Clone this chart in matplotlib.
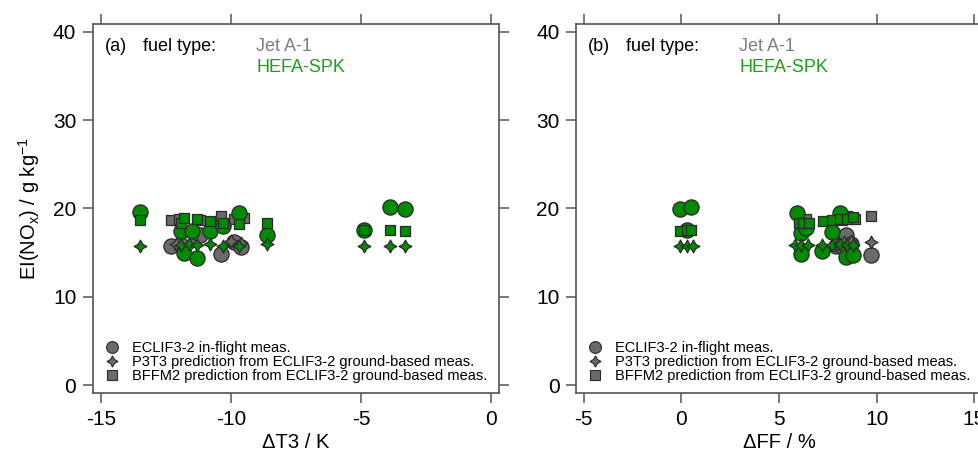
import matplotlib
matplotlib.use("Agg")
import matplotlib.pyplot as plt
from matplotlib.lines import Line2D

plt.rcParams['font.family'] = ['Liberation Sans', 'DejaVu Sans']
plt.rcParams['mathtext.fontset'] = 'custom'
plt.rcParams['mathtext.rm'] = 'Liberation Sans'
plt.rcParams['mathtext.it'] = 'Liberation Sans:italic'
plt.rcParams['axes.unicode_minus'] = False

# ---- panel (a): dT3 / K ----
a_jet_meas_x = [-12.3, -11.9, -11.2, -10.4, -9.9, -9.6]
a_jet_meas_y = [15.7, 15.9, 17.0, 14.8, 16.2, 15.6]
a_jet_p3t3_x = [-12.1, -11.5, -10.0, -9.6]
a_jet_p3t3_y = [16.0, 16.2, 16.3, 16.1]
a_jet_bffm_x = [-12.3, -12.0, -11.2, -10.4, -9.9, -9.5]
a_jet_bffm_y = [18.7, 18.8, 18.7, 19.1, 18.8, 18.9]

a_hefa_meas_x = [-13.5, -11.9, -11.8, -11.5, -11.3, -10.8, -10.3, -9.7, -8.6, -4.9, -3.9, -3.3]
a_hefa_meas_y = [19.6, 17.4, 14.9, 17.4, 14.4, 17.5, 18.0, 19.5, 17.0, 17.6, 20.2, 19.9]
a_hefa_p3t3_x = [-13.5, -11.9, -11.6, -11.3, -10.8, -10.3, -9.7, -8.6, -4.9, -3.9, -3.3]
a_hefa_p3t3_y = [15.8, 15.9, 16.0, 15.9, 16.0, 15.8, 15.8, 16.0, 15.8, 15.8, 15.8]
a_hefa_bffm_x = [-13.5, -11.9, -11.8, -11.3, -10.8, -10.3, -9.7, -8.6, -4.9, -3.9, -3.3]
a_hefa_bffm_y = [18.7, 18.3, 18.9, 18.8, 18.6, 18.4, 18.2, 18.4, 17.6, 17.6, 17.4]

# ---- panel (b): dFF / % ----
b_jet_meas_x = [7.9, 8.0, 8.2, 8.4, 8.7, 9.7]
b_jet_meas_y = [15.7, 16.0, 15.8, 17.0, 16.0, 14.7]
b_jet_p3t3_x = [8.0, 8.3, 8.7, 9.7]
b_jet_p3t3_y = [16.0, 16.2, 16.3, 16.2]
b_jet_bffm_x = [6.0, 6.4, 8.2, 8.5, 8.9, 9.7]
b_jet_bffm_y = [18.7, 18.8, 18.7, 19.1, 18.8, 19.1]

b_hefa_meas_x = [-0.1, 0.5, 0.3, 5.9, 6.1, 6.1, 6.4, 7.2, 7.7, 8.1, 8.4, 8.8]
b_hefa_meas_y = [19.9, 20.2, 17.6, 19.5, 17.2, 14.85, 17.8, 15.2, 17.3, 19.5, 14.45, 14.7]
b_hefa_p3t3_x = [-0.1, 0.3, 0.6, 5.8, 6.1, 6.5, 7.2, 7.7, 8.1, 8.5, 8.8]
b_hefa_p3t3_y = [15.8, 15.8, 15.8, 15.9, 15.9, 15.9, 15.9, 15.9, 16.0, 15.9, 15.9]
b_hefa_bffm_x = [-0.1, 0.3, 0.5, 6.0, 6.2, 6.55, 7.25, 7.7, 8.1, 8.45, 8.8]
b_hefa_bffm_y = [17.45, 17.6, 17.6, 18.3, 18.3, 18.3, 18.6, 18.7, 18.8, 18.8, 19.0]

legend_labels = ['ECLIF3-2 in-flight meas.',
                 'P3T3 prediction from ECLIF3-2 ground-based meas.',
                 'BFFM2 prediction from ECLIF3-2 ground-based meas.']

GRAY = '#6a6a6a'
GREEN = '#008a00'
EDGE = '#2a2a2a'
AXC = '#555555'
STAR = (4, 1, 0)
SIZES = [120, 85, 62]

fig = plt.figure(figsize=(9.79, 4.53), dpi=100)
ax_a = fig.add_axes([0.095, 0.1325, 0.4147, 0.8146])
ax_b = fig.add_axes([0.5884, 0.1325, 0.4149, 0.8146])


def draw(ax, jet, hefa):
    for (x, y), m, s in zip(jet, ['o', STAR, 's'], SIZES):
        ax.scatter(x, y, marker=m, s=s, c=GRAY, edgecolors=EDGE, linewidths=0.9, zorder=3)
    for (x, y), m, s in zip(hefa, ['o', STAR, 's'], SIZES):
        ax.scatter(x, y, marker=m, s=s, c=GREEN, edgecolors=EDGE, linewidths=0.9, zorder=4)


draw(ax_a,
     [(a_jet_meas_x, a_jet_meas_y), (a_jet_p3t3_x, a_jet_p3t3_y), (a_jet_bffm_x, a_jet_bffm_y)],
     [(a_hefa_meas_x, a_hefa_meas_y), (a_hefa_p3t3_x, a_hefa_p3t3_y), (a_hefa_bffm_x, a_hefa_bffm_y)])
draw(ax_b,
     [(b_jet_meas_x, b_jet_meas_y), (b_jet_p3t3_x, b_jet_p3t3_y), (b_jet_bffm_x, b_jet_bffm_y)],
     [(b_hefa_meas_x, b_hefa_meas_y), (b_hefa_p3t3_x, b_hefa_p3t3_y), (b_hefa_bffm_x, b_hefa_bffm_y)])

ax_a.set_xlim(-15.3, 0.3)
ax_b.set_xlim(-5.4, 15.4)
ax_a.set_xticks([-15, -10, -5, 0])
ax_b.set_xticks([-5, 0, 5, 10, 15])
ax_a.set_xlabel('ΔT3 / K', fontsize=14.5, labelpad=3)
ax_b.set_xlabel('ΔFF / %', fontsize=14.5, labelpad=3)
ax_a.set_ylabel('EI(NO$_{\\mathrm{x}}$) / g kg$^{-1}$', fontsize=14.5, labelpad=8)

handles = [Line2D([], [], ls='none', marker=m, ms=ms, mfc=GRAY, mec=EDGE, mew=0.8)
           for m, ms in zip(['o', STAR, 's'], [8.5, 8, 7.5])]

for ax, tag in [(ax_a, '(a)'), (ax_b, '(b)')]:
    ax.set_ylim(-0.9, 40.9)
    ax.set_yticks([0, 10, 20, 30, 40])
    for sp in ax.spines.values():
        sp.set_color(AXC)
        sp.set_linewidth(1.2)
    ax.tick_params(direction='out', length=7, width=1.1, color=AXC, labelsize=15,
                   top=True, right=True, pad=5)
    ax.text(0.03, 0.938, tag, transform=ax.transAxes, fontsize=13, va='center')
    ax.text(0.123, 0.938, 'fuel type:', transform=ax.transAxes, fontsize=13, va='center')
    ax.text(0.402, 0.938, 'Jet A-1', transform=ax.transAxes, fontsize=13, va='center', color='#7f7f7f')
    ax.text(0.402, 0.883, 'HEFA-SPK', transform=ax.transAxes, fontsize=13, va='center', color='#1e9e1e')
    ax.legend(handles, legend_labels, loc='lower left', bbox_to_anchor=(0.0, 0.0),
              frameon=False, fontsize=10.5, borderaxespad=0, borderpad=0.7,
              handlelength=1.2, handletextpad=0.8, labelspacing=0.0)

fig.savefig('out.png', dpi=100)
